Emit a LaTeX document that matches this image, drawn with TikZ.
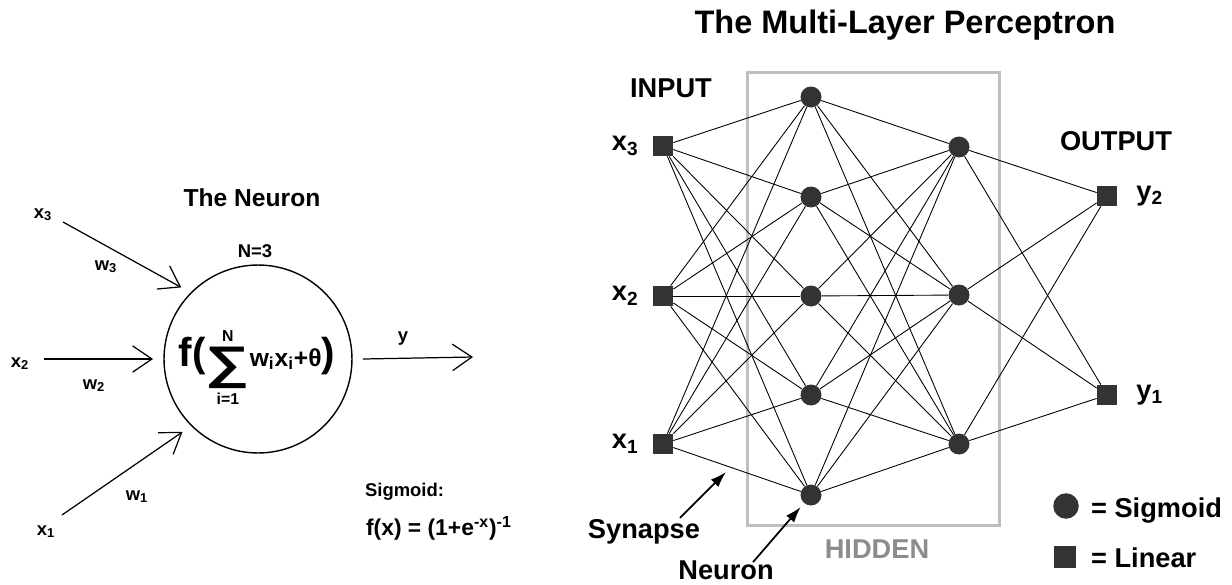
\documentclass[tikz,border=0pt]{standalone}
\usepackage{amsmath}
\usepackage{graphicx}
\usepackage{fontspec}
\setmainfont{Liberation Sans}
\definecolor{nodegray}{HTML}{333333}
\definecolor{boxgray}{HTML}{BFBFBF}
\definecolor{hiddengray}{HTML}{8C8C8C}
\usetikzlibrary{
  positioning,
  arrows.meta,
  calc
}
\newcommand{\sumsign}{\raisebox{-7pt}{\scalebox{1.35}[1]{\fontsize{26}{26}\selectfont ∑}}}
\newcommand{\limfont}{\fontsize{9}{9}\selectfont}

\begin{document}
\begin{tikzpicture}[
  x=0.02cm, y=-0.02cm,
  sig/.style={circle, fill=nodegray, minimum size=0.42cm, inner sep=0pt},
  lin/.style={rectangle, fill=nodegray, minimum size=0.4cm, inner sep=0pt},
  syn/.style={line width=0.5pt},
  hiddenbox/.style={rectangle, draw=boxgray, line width=1.7pt, inner sep=0pt},
  neuronbox/.style={circle, draw, line width=0.8pt, minimum size=3.76cm, inner sep=0pt, outer sep=0.22cm},
  inarrow/.style={-{Straight Barb[length=11pt,width=15pt]}, line width=0.7pt},
  callout/.style={-{Latex[length=9pt,width=6pt]}, line width=1pt},
  titlelbl/.style={font=\bfseries\fontsize{18.5}{20}\selectfont, inner sep=1pt},
  biglbl/.style={font=\bfseries\fontsize{15.5}{17}\selectfont, inner sep=1pt},
  midlbl/.style={font=\bfseries\fontsize{14}{16}\selectfont, inner sep=1pt},
  smalllbl/.style={font=\bfseries\fontsize{10.5}{12}\selectfont, inner sep=1pt}
]
\useasboundingbox (0,0) rectangle (1232,585);

% ---- the single neuron ----
\node[midlbl, anchor=base] (neutitle) at (252,206) {The Neuron};
\node[smalllbl, anchor=base] (nlbl) at (255,257) {N=3};
\node[neuronbox] (neuron) at (258,359) {};
\node[font=\bfseries\fontsize{14}{16}\selectfont, inner sep=0pt, anchor=base] (fsum) at (257,366) {%
  {\fontsize{23}{23}\selectfont f(}$\mathop{\hbox{\sumsign}}\limits_{\hbox{\limfont i=1}}^{\hbox{\limfont N}}$w\textsubscript{i}x\textsubscript{i}+θ{\fontsize{23}{23}\selectfont )}};

\coordinate (t3) at (63,222);
\coordinate (t2) at (44,359);
\coordinate (t1) at (62,515);
\coordinate (yend) at (473,357);

\node[smalllbl, anchor=base] (lx3) at (43,218) {x\textsubscript{3}};
\node[smalllbl, anchor=base] (lw3) at (106,270) {w\textsubscript{3}};
\node[smalllbl, anchor=base] (lx2) at (20,367) {x\textsubscript{2}};
\node[smalllbl, anchor=base] (lw2) at (94,389) {w\textsubscript{2}};
\node[smalllbl, anchor=base] (lx1) at (46,535) {x\textsubscript{1}};
\node[smalllbl, anchor=base] (lw1) at (137,500) {w\textsubscript{1}};
\node[smalllbl, anchor=base] (ly) at (403,341) {y};

\draw[inarrow] (t3) -- (neuron.137);
\draw[inarrow] (t2) -- (neuron.180);
\draw[inarrow] (t1) -- (neuron.224);
\draw[inarrow] (neuron.0) -- (yend);

\node[smalllbl, anchor=base west] (sigtitle) at (363,496) {Sigmoid:};
\node[font=\bfseries\fontsize{13}{15}\selectfont, inner sep=1pt, anchor=base west] (sigfunc) at (364,535)
  {f(x) = (1+e\textsuperscript{-x})\textsuperscript{-1}};

% ---- the multi-layer perceptron ----
\node[titlelbl, anchor=base] (mlptitle) at (905,33) {The Multi-Layer Perceptron};

\node[hiddenbox, minimum width=5.06cm, minimum height=9.08cm] (hidden) at (873.5,299) {};

\node[lin] (i3) at (663,146) {};
\node[lin] (i2) at (663,296) {};
\node[lin] (i1) at (663,444) {};

\node[sig] (h5) at (811,97) {};
\node[sig] (h4) at (811,197) {};
\node[sig] (h3) at (811,296) {};
\node[sig] (h2) at (811,395) {};
\node[sig] (h1) at (811,495) {};

\node[sig] (g3) at (959,147) {};
\node[sig] (g2) at (959,295) {};
\node[sig] (g1) at (959,444) {};

\node[lin] (o2) at (1107,196) {};
\node[lin] (o1) at (1107,395) {};

\foreach \a in {1,2,3} \foreach \b in {1,...,5} \draw[syn] (i\a) -- (h\b);
\foreach \a in {1,...,5} \foreach \b in {1,2,3} \draw[syn] (h\a) -- (g\b);
\foreach \a in {1,2,3} \foreach \b in {1,2} \draw[syn] (g\a) -- (o\b);

\node[biglbl, anchor=base] (inlbl) at (671,97) {INPUT};
\node[biglbl, anchor=base] (outlbl) at (1116,150) {OUTPUT};
\node[biglbl, anchor=base] (hidlbl) at (877,558) {\color{hiddengray}HIDDEN};

\node[biglbl, left=0.24cm of i3] (lx3r) {x\textsubscript{3}};
\node[biglbl, left=0.24cm of i2] (lx2r) {x\textsubscript{2}};
\node[biglbl, left=0.24cm of i1] (lx1r) {x\textsubscript{1}};
\node[biglbl, right=0.34cm of o2] (ly2) {y\textsubscript{2}};
\node[biglbl, right=0.34cm of o1] (ly1) {y\textsubscript{1}};

\node[biglbl, anchor=base] (synlbl) at (644,538) {Synapse};
\node[biglbl, anchor=base] (neulbl) at (726,579) {Neuron};
\coordinate (synapse) at (726,472);
\draw[callout] ($(synlbl.north)+(36,1)$) -- (synapse);
\draw[callout, shorten >=0.1cm] ($(neulbl.north)+(27,4)$) -- (h1);

% ---- legend ----
\node[sig, minimum size=0.51cm] (legsig) at (1066,506) {};
\node[lin, minimum size=0.44cm] (leglin) at (1065,557) {};
\node[biglbl, anchor=base west] (legsiglbl) at (1089,517) {= Sigmoid};
\node[biglbl, anchor=base west] (leglinlbl) at (1089,567) {= Linear};

\end{tikzpicture}
\end{document}
